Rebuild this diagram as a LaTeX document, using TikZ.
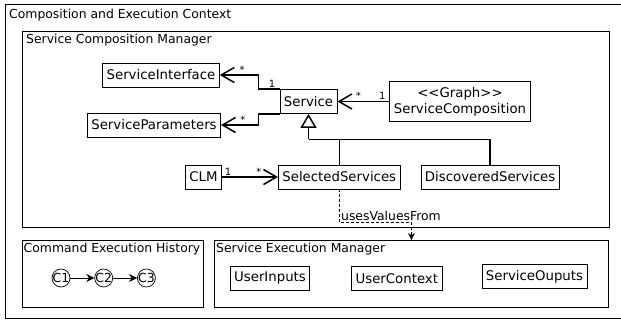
\documentclass[tikz,border=0pt]{standalone}
\usepackage{fontspec}
\setmainfont{DejaVu Sans}
\usetikzlibrary{positioning,calc,arrows.meta}

\tikzset{
  region/.style={draw, line width=0.8pt, anchor=north west, inner sep=0pt},
  regtitle/.style={anchor=north west, font=\fontsize{12.4}{14}\selectfont, inner xsep=4pt, inner ysep=3pt},
  cls/.style={draw, line width=0.8pt, font=\fontsize{13.3}{16}\selectfont, inner xsep=4pt, minimum height=24pt},
  mult/.style={font=\fontsize{10}{11}\selectfont, inner sep=1pt},
  assoc/.style={line width=1.5pt, -{Straight Barb[length=13pt,width=15pt]}},
  gen/.style={line width=1.5pt, -{Triangle[open,length=14pt,width=16pt,fill=white]}},
  cmd/.style={circle, draw, line width=0.7pt, inner sep=-2pt, minimum size=18pt, font=\fontsize{12.5}{14}\selectfont},
}

\begin{document}
\begin{tikzpicture}[x=1pt, y=-1pt]

    \clip (0,0) rectangle (621,325);

    % regions
    \node[region, minimum width=640pt, minimum height=314pt] (outer) at (5,4) {};
    \node[regtitle, inner ysep=5pt] (outertitle) at (outer.north west) {Composition and Execution Context};

    \node[region, minimum width=587pt, minimum height=196pt] (scm) at (22,31) {};
    \node[regtitle] (scmtitle) at (scm.north west) {Service Composition Manager};

    \node[region, minimum width=181pt, minimum height=67pt] (ceh) at (22,240) {};
    \node[regtitle, inner xsep=1.5pt] (cehtitle) at (ceh.north west) {Command Execution History};

    \node[region, minimum width=394pt, minimum height=67pt] (sem) at (214,240) {};
    \node[regtitle, inner xsep=2pt] (semtitle) at (sem.north west) {Service Execution Manager};

    % classes
    \node[cls] (svc) at (308.5,101.5) {Service};
    \node[cls] (sint) at (161,75) {ServiceInterface};
    \node[cls] (spar) at (154,125) {ServiceParameters};
    \node[cls, align=center, minimum height=40pt] (scomp) at (460,101.5) {<\kern0pt<Graph>\kern0pt>\\ServiceComposition};

    \node[cls] (clm) at (203.5,177) {CLM};
    \node[cls, right=56pt of clm] (selsvc) {SelectedServices};
    \node[cls, right=20pt of selsvc] (discsvc) {DiscoveredServices};

    \node[cls] (uin) at (270,278.5) {UserInputs};
    \node[cls, right=41pt of uin] (uctx) {UserContext};
    \node[cls] (sout) at (534.5,276.5) {ServiceOuputs};

    \node[cmd] (c1) at (61,278) {C1};
    \node[cmd, right=24pt of c1] (c2) {C2};
    \node[cmd, right=24pt of c2] (c3) {C3};

    % associations
    \draw[assoc] (svc.north west) -- node[mult, above, pos=0.35] {1} ++(-21,0) |- node[mult, above, pos=0.71] {*} (sint.east);
    \draw[assoc] (svc.south west) -- ++(-21,0) |- node[mult, above, pos=0.71] {*} (spar.east);
    \draw[assoc] (scomp.west) -- node[mult, above, pos=0.14] {1} node[mult, above, pos=0.6] {*} (svc.east);
    \draw[assoc] (clm.east) -- node[mult, above, pos=0.11] {1} node[mult, above, pos=0.66] {*} (selsvc.west);

    % generalization
    \coordinate (genjoin) at ($(svc.south)+(0,25.5)$);
    \draw[gen] (genjoin) -- (svc.south);
    \draw[line width=1.5pt] (selsvc.north) |- (genjoin);
    \draw[line width=1.5pt] (discsvc.north) |- (genjoin);

    % dependency
    \draw[dash pattern=on 3pt off 2pt, line width=0.8pt, -{Stealth[length=7pt,width=7pt]}] (selsvc.south) -- ++(0,33)
        node[above right, inner sep=1.5pt, font=\fontsize{12.4}{14}\selectfont] {usesValuesFrom} -| (sem.north);

    % command history
    \draw[-{Stealth[length=8pt,width=8pt]}, line width=0.8pt] (c1) -- (c2);
    \draw[-{Stealth[length=8pt,width=8pt]}, line width=0.8pt] (c2) -- (c3);

\end{tikzpicture}
\end{document}
